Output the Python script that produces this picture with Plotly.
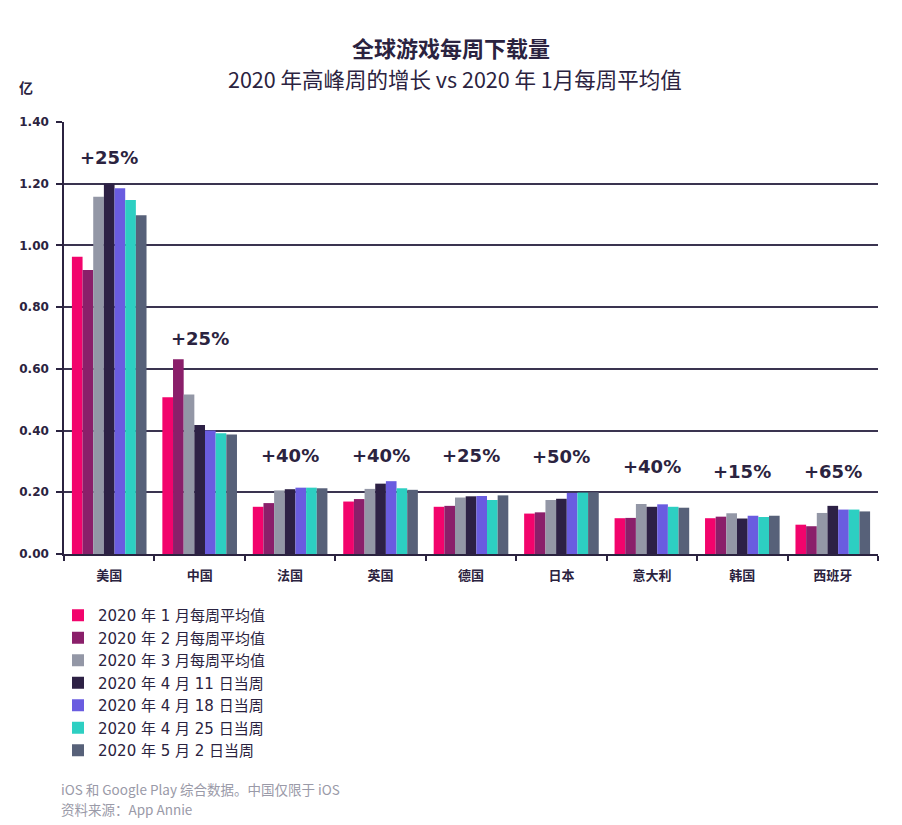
import plotly.graph_objects as go

categories = ["美国", "中国", "法国", "英国", "德国", "日本", "意大利", "韩国", "西班牙"]
series_names = ["2020 年 1 月每周平均值", "2020 年 2 月每周平均值", "2020 年 3 月每周平均值",
                "2020 年 4 月 11 日当周", "2020 年 4 月 18 日当周", "2020 年 4 月 25 日当周",
                "2020 年 5 月 2 日当周"]
jan = [0.963, 0.508, 0.153, 0.170, 0.153, 0.131, 0.116, 0.116, 0.095]
feb = [0.920, 0.631, 0.165, 0.178, 0.156, 0.135, 0.117, 0.121, 0.090]
mar = [1.158, 0.517, 0.206, 0.211, 0.183, 0.175, 0.162, 0.132, 0.133]
apr11 = [1.201, 0.418, 0.210, 0.228, 0.187, 0.179, 0.153, 0.115, 0.156]
apr18 = [1.185, 0.400, 0.215, 0.236, 0.188, 0.198, 0.161, 0.124, 0.144]
apr25 = [1.147, 0.391, 0.215, 0.213, 0.175, 0.199, 0.153, 0.120, 0.144]
may2 = [1.098, 0.387, 0.213, 0.208, 0.190, 0.200, 0.150, 0.124, 0.138]
growth_labels = ["+25%", "+25%", "+40%", "+40%", "+25%", "+50%", "+40%", "+15%", "+65%"]
label_heights = [1.286, 0.697, 0.318, 0.318, 0.318, 0.315, 0.283, 0.267, 0.267]
footnotes = ["iOS 和 Google Play 综合数据。中国仅限于 iOS", "资料来源：App Annie"]
colors = ["#f2046c", "#8a1f6a", "#9397a6", "#2d2145", "#6a5ce0", "#2dcfc2", "#576179"]

series = [jan, feb, mar, apr11, apr18, apr25, may2]
dark = "#2b2340"
gray = "#9a9aa8"

fig = go.Figure()
for name, vals, col in zip(series_names, series, colors):
    fig.add_trace(go.Bar(x=categories, y=vals, name=name, marker=dict(color=col, line=dict(width=0))))

for cat, lab, h in zip(categories, growth_labels, label_heights):
    fig.add_annotation(x=cat, y=h, text=lab, showarrow=False, xref="x", yref="y",
                       font=dict(family="DejaVu Sans", size=18, color=dark, weight="bold"))

PLOT_TOP, PLOT_BOTTOM, PLOT_LEFT, PLOT_RIGHT = 122, 554, 64, 878


def paper_y(py):
    return (PLOT_BOTTOM - py) / (PLOT_BOTTOM - PLOT_TOP)


def paper_x(px):
    return (px - PLOT_LEFT) / (PLOT_RIGHT - PLOT_LEFT)


fig.update_layout(
    width=902, height=825,
    margin=dict(l=PLOT_LEFT, r=902 - PLOT_RIGHT, t=PLOT_TOP, b=825 - PLOT_BOTTOM),
    paper_bgcolor="white", plot_bgcolor="white",
    barmode="group", bargap=0.175, bargroupgap=0,
    showlegend=True,
    legend=dict(x=paper_x(58), y=paper_y(599), xanchor="left", yanchor="top",
                font=dict(family="DejaVu Sans, Noto Sans CJK SC", size=15, color=dark),
                traceorder="normal", itemwidth=30, tracegroupgap=0),
    xaxis=dict(showline=True, linecolor=dark, linewidth=1.5, ticks="outside", tickson="boundaries",
               ticklen=5, tickcolor=dark, tickwidth=1.5, ticklabelstandoff=9,
               tickfont=dict(family="DejaVu Sans, Noto Sans CJK SC", size=13, color=dark, weight="bold")),
    yaxis=dict(range=[0, 1.4], dtick=0.2, tickformat=".2f", showline=True, linecolor=dark, linewidth=1.5,
               ticks="outside", ticklen=6, tickcolor=dark, tickwidth=1.5, ticklabelstandoff=5,
               showgrid=True, gridcolor="#3a3450", gridwidth=1.5, zeroline=False,
               tickfont=dict(family="DejaVu Sans", size=12, color=dark, weight="bold")),
)

fig.add_annotation(x=paper_x(451), y=paper_y(47), xref="paper", yref="paper", text="全球游戏每周下载量",
                   showarrow=False, xanchor="center", yanchor="middle",
                   font=dict(family="Noto Sans CJK SC", size=22, color=dark, weight="bold"))
fig.add_annotation(x=paper_x(455), y=paper_y(78), xref="paper", yref="paper",
                   text="2020 年高峰周的增长 vs 2020 年 1月每周平均值",
                   showarrow=False, xanchor="center", yanchor="middle",
                   font=dict(family="Noto Sans CJK SC", size=21.5, color=dark))
fig.add_annotation(x=paper_x(17), y=paper_y(87), xref="paper", yref="paper", text="亿",
                   showarrow=False, xanchor="left", yanchor="middle",
                   font=dict(family="Noto Sans CJK SC", size=14, color=dark, weight="bold"))
for text, py in zip(footnotes, [789, 809]):
    fig.add_annotation(x=paper_x(60), y=paper_y(py), xref="paper", yref="paper",
                       text=text, showarrow=False, xanchor="left", yanchor="middle",
                       borderpad=0,
                       font=dict(family="Noto Sans CJK SC", size=13.5, color=gray))

fig.write_html("out.html")
